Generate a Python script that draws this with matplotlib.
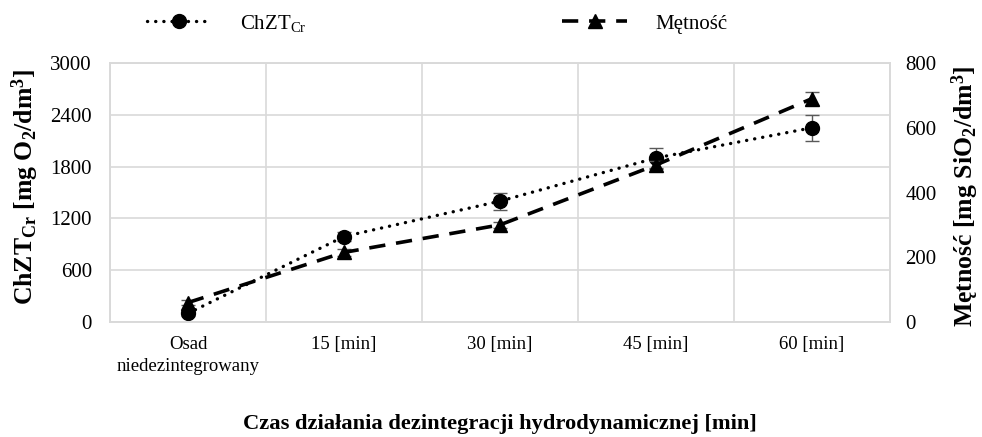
import numpy as np
import matplotlib
matplotlib.use("Agg")
import matplotlib.pyplot as plt

plt.rcParams['font.family'] = ['Liberation Serif', 'DejaVu Serif']
plt.rcParams['mathtext.fontset'] = 'custom'
plt.rcParams['mathtext.rm'] = 'Liberation Serif'
plt.rcParams['mathtext.it'] = 'Liberation Serif:italic'
plt.rcParams['mathtext.bf'] = 'Liberation Serif:bold'

categories = ["Osad\nniedezintegrowany", "15 [min]", "30 [min]", "45 [min]", "60 [min]"]
chzt = [100, 990, 1400, 1900, 2250]
chzt_err = [30, 50, 100, 115, 150]
metnosc = [60, 215, 300, 485, 690]
metnosc_err = [8, 10, 10, 12, 20]

left_ticks = [0, 600, 1200, 1800, 2400, 3000]
right_ticks = [0, 200, 400, 600, 800]

grid_c = "#d9d9d9"

fig = plt.figure(figsize=(9.82, 4.37), dpi=100)
ax = fig.add_axes([110 / 982, 1 - 322 / 437, 780 / 982, 259 / 437])
ax2 = ax.twinx()

x = np.arange(len(categories))

ax.set_xlim(-0.5, len(categories) - 0.5)
ax.set_ylim(0, 3000)
ax2.set_ylim(0, 800)
ax.set_yticks(left_ticks)
ax2.set_yticks(right_ticks)
ax.set_xticks(x)
ax.set_xticklabels(categories, fontsize=13.5, linespacing=1.4)
ax.set_xticks(np.arange(len(categories) + 1) - 0.5, minor=True)

ax.grid(True, axis='y', color=grid_c, linewidth=1.2)
ax.grid(True, axis='x', which='minor', color=grid_c, linewidth=1.2)
ax.set_axisbelow(True)
for a in (ax, ax2):
    for s in a.spines.values():
        s.set_color(grid_c)
        s.set_linewidth(1.2)
    a.tick_params(length=0, which='both')
ax.tick_params(axis='y', labelsize=15, pad=13)
ax.tick_params(axis='x', pad=10)
ax2.tick_params(axis='y', labelsize=15, pad=11)

ax.errorbar(x, chzt, yerr=chzt_err, fmt='none', ecolor='#595959', elinewidth=1, capsize=5, capthick=1, zorder=3)
l1, = ax.plot(x, chzt, linestyle=(0, (0.05, 2.4)), color='black', linewidth=2.4, marker='o',
              markersize=10, zorder=4, dash_capstyle='round')

ax2.errorbar(x, metnosc, yerr=metnosc_err, fmt='none', ecolor='#595959', elinewidth=1, capsize=5, capthick=1, zorder=3)
l2, = ax2.plot(x, metnosc, linestyle=(0, (4.5, 3)), color='black', linewidth=2.6, marker='^',
               markersize=10, zorder=4)

# axis titles
fig.text(25 / 982, 1 - 187 / 437, r"ChZT$_{\mathbf{Cr}}$ [mg O$_{\mathbf{2}}$/dm$^{\mathbf{3}}$]",
         fontsize=18.5, fontweight='bold', rotation=90, ha='center', va='center')
fig.text(965 / 982, 1 - 196 / 437, r"Mętność [mg SiO$_{\mathbf{2}}$/dm$^{\mathbf{3}}$]",
         fontsize=18.5, fontweight='bold', rotation=90, ha='center', va='center')
fig.text(500 / 982, 1 - 429 / 437, "Czas działania dezintegracji hydrodynamicznej [min]",
         fontsize=16.2, fontweight='bold', ha='center', va='baseline')

fig.legend([l1, l2], [r"ChZT$_{\mathrm{Cr}}$", "Mętność"], ncol=2, loc='center',
           bbox_to_anchor=(437 / 982, 1 - 23 / 437), frameon=False, fontsize=15,
           columnspacing=12.3, handlelength=3.1, handletextpad=1.35, borderpad=0)

fig.savefig("out.png", dpi=100)
